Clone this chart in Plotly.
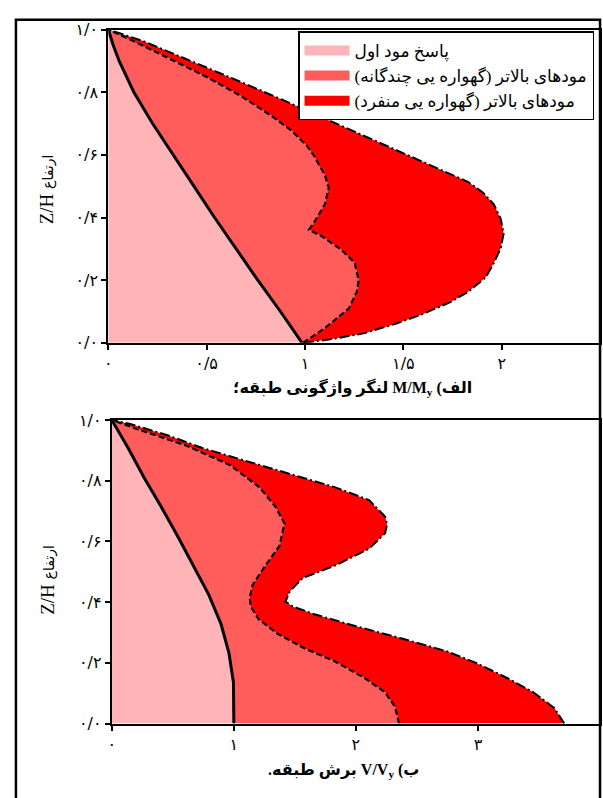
import plotly.graph_objects as go

# ---------------- data ----------------
# Top panel: overturning moment M/My vs height Z/H
m_first_y = [0.0, 0.1, 0.2, 0.3, 0.4, 0.5, 0.6, 0.7, 0.8, 0.9, 0.95, 1.0]
m_first_x = [0.985, 0.875, 0.76, 0.65, 0.54, 0.435, 0.33, 0.225, 0.13, 0.055, 0.025, 0.0]

m_multi_y = [0.0, 0.047, 0.109, 0.162, 0.199, 0.255, 0.296, 0.340, 0.361, 0.389, 0.442, 0.495,
             0.536, 0.567, 0.598, 0.629, 0.676, 0.723, 0.785, 0.847, 0.910, 0.956, 1.0]
m_multi_x = [0.99, 1.101, 1.222, 1.263, 1.273, 1.253, 1.187, 1.086, 1.020, 1.051, 1.101, 1.121,
             1.101, 1.071, 1.045, 1.010, 0.934, 0.833, 0.682, 0.505, 0.303, 0.152, 0.0]

m_single_y = [0.0, 0.012, 0.031, 0.062, 0.090, 0.131, 0.162, 0.209, 0.255, 0.302, 0.349, 0.396,
              0.442, 0.480, 0.514, 0.576, 0.636, 0.707, 0.776, 0.844, 0.910, 0.963, 1.0]
m_single_x = [0.995, 1.136, 1.303, 1.465, 1.591, 1.742, 1.828, 1.919, 1.960, 1.995, 2.010, 1.995,
              1.960, 1.904, 1.828, 1.606, 1.389, 1.136, 0.884, 0.631, 0.379, 0.177, 0.0]

# Bottom panel: storey shear V/Vy vs height Z/H
v_first_y = [0.0, 0.071, 0.135, 0.232, 0.328, 0.424, 0.521, 0.617, 0.714, 0.810, 0.907, 1.0]
v_first_x = [1.0, 1.0, 0.997, 0.96, 0.895, 0.795, 0.67, 0.54, 0.405, 0.265, 0.135, 0.0]

v_multi_y = [0.0, 0.055, 0.103, 0.151, 0.206, 0.248, 0.296, 0.344, 0.386, 0.415, 0.457, 0.521,
             0.585, 0.659, 0.714, 0.778, 0.852, 0.916, 0.971, 1.0]
v_multi_x = [2.353, 2.321, 2.239, 2.068, 1.823, 1.578, 1.358, 1.203, 1.138, 1.130, 1.154, 1.260,
             1.374, 1.415, 1.342, 1.211, 0.967, 0.608, 0.200, 0.0]

v_single_y = [0.0, 0.051, 0.103, 0.151, 0.199, 0.238, 0.280, 0.322, 0.360, 0.386, 0.402, 0.434,
              0.479, 0.521, 0.576, 0.627, 0.656, 0.682, 0.736, 0.778, 0.842, 0.907, 0.949, 0.987, 1.0]
v_single_x = [3.707, 3.626, 3.454, 3.234, 2.989, 2.745, 2.377, 1.986, 1.660, 1.481, 1.423, 1.456,
              1.562, 1.831, 2.108, 2.239, 2.255, 2.239, 2.108, 1.831, 1.293, 0.747, 0.461, 0.151, 0.0]

# tick labels
y_tickvals = [0, 0.2, 0.4, 0.6, 0.8, 1.0]
y_ticktext = ["۰/۰", "۰/۲", "۰/۴", "۰/۶", "۰/۸", "۱/۰"]
x1_tickvals = [0, 0.5, 1, 1.5, 2, 2.5]
x1_ticktext = ["۰", "۰/۵", "۱", "۱/۵", "۲", "۲/۵"]
x2_tickvals = [0, 1, 2, 3, 4]
x2_ticktext = ["۰", "۱", "۲", "۳", "۴"]

# (texts are rendered right-to-left; segment order chosen so the visual order matches the figure)
legend_names = ["پاسخ مود اول",
                "(گهواره یی چندگانه) مودهای بالاتر",
                "(گهواره یی منفرد) مودهای بالاتر"]
title_top = "<b>لنگر واژگونی طبقه؛ M/M<sub>y</sub> (الف</b>"
title_bottom = "<b>.برش طبقه V/V<sub>y</sub> (ب</b>"
title_y = "Z/H <span style='font-size:14px'>ارتفاع</span>"

# ---------------- styles ----------------
C_PINK = "#FFB4B8"
C_MED = "#FF5C5C"
C_RED = "#FF0000"
FONT = "Liberation Serif, DejaVu Serif, DejaVu Sans, serif"

fig = go.Figure()


def add_panel(xa, ya, fx, fy, mx, my, sx, sy):
    # fills
    fig.add_trace(go.Scatter(x=fx + [0], y=fy + [0], fill="toself", fillcolor=C_PINK,
                             mode="lines", line=dict(width=0), showlegend=False,
                             hoverinfo="skip", xaxis=xa, yaxis=ya))
    fig.add_trace(go.Scatter(x=mx + fx[::-1], y=my + fy[::-1], fill="toself", fillcolor=C_MED,
                             mode="lines", line=dict(width=0), showlegend=False,
                             hoverinfo="skip", xaxis=xa, yaxis=ya))
    fig.add_trace(go.Scatter(x=sx + mx[::-1], y=sy + my[::-1], fill="toself", fillcolor=C_RED,
                             mode="lines", line=dict(width=0), showlegend=False,
                             hoverinfo="skip", xaxis=xa, yaxis=ya))
    # outlines
    fig.add_trace(go.Scatter(x=fx, y=fy, mode="lines", line=dict(color="black", width=3),
                             showlegend=False, xaxis=xa, yaxis=ya))
    fig.add_trace(go.Scatter(x=mx, y=my, mode="lines",
                             line=dict(color="black", width=2.2, dash="6px,3px"),
                             showlegend=False, xaxis=xa, yaxis=ya))
    fig.add_trace(go.Scatter(x=sx, y=sy, mode="lines",
                             line=dict(color="black", width=2, dash="10px,3px,2px,3px"),
                             showlegend=False, xaxis=xa, yaxis=ya))


add_panel("x", "y", m_first_x, m_first_y, m_multi_x, m_multi_y, m_single_x, m_single_y)
add_panel("x2", "y2", v_first_x, v_first_y, v_multi_x, v_multi_y, v_single_x, v_single_y)

for name, col in zip(legend_names, [C_PINK, C_MED, C_RED]):
    fig.add_trace(go.Scatter(x=[None], y=[None], mode="lines", name=name,
                             line=dict(color=col, width=10), xaxis="x", yaxis="y"))

W, H = 603, 798

axis_common = dict(showgrid=False, zeroline=False, showline=True, linecolor="black",
                   linewidth=2, mirror=True, ticks="outside", ticklen=5, tickwidth=1.5,
                   tickcolor="black", tickfont=dict(family="DejaVu Sans", size=16, color="black"))

fig.update_layout(
    width=W, height=H,
    margin=dict(l=0, r=0, t=0, b=0),
    paper_bgcolor="white", plot_bgcolor="white",
    font=dict(family=FONT, color="black"),
    xaxis=dict(domain=[105 / W, 600 / W], range=[0, 2.5], tickmode="array",
               tickvals=x1_tickvals, ticktext=x1_ticktext, anchor="y", **axis_common),
    yaxis=dict(domain=[(H - 342) / H, (H - 21) / H], range=[0, 1], tickmode="array",
               tickvals=y_tickvals, ticktext=y_ticktext, anchor="x", **axis_common),
    xaxis2=dict(domain=[108.5 / W, 600 / W], range=[0, 4], tickmode="array",
                tickvals=x2_tickvals, ticktext=x2_ticktext, anchor="y2", **axis_common),
    yaxis2=dict(domain=[(H - 732) / H, (H - 421) / H], range=[0, 1], tickmode="array",
                tickvals=y_tickvals, ticktext=y_ticktext, anchor="x2", **axis_common),
    legend=dict(x=296 / W, y=(H - 23) / H, xanchor="left", yanchor="top",
                bgcolor="white", bordercolor="black", borderwidth=1.5,
                font=dict(family=FONT, size=17, color="black"),
                itemwidth=45, tracegroupgap=0),
    showlegend=True,
)

# outer frame
fig.add_shape(type="rect", xref="paper", yref="paper",
              x0=12 / W, x1=600 / W, y0=-0.05, y1=(H - 11) / H,
              line=dict(color="black", width=2.5), fillcolor="rgba(0,0,0,0)", layer="above")

# axis titles
for yc in (185, 585):
    fig.add_annotation(text=title_y, xref="paper", yref="paper", x=43 / W, y=(H - yc) / H,
                       xanchor="center", yanchor="middle",
                       textangle=-90, showarrow=False, font=dict(family=FONT, size=19))
fig.add_annotation(text=title_top, xref="paper", yref="paper", x=351 / W, y=(H - 388) / H,
                   xanchor="center", yanchor="middle",
                   showarrow=False, font=dict(family=FONT, size=16))
fig.add_annotation(text=title_bottom, xref="paper", yref="paper", x=342 / W, y=(H - 780) / H,
                   xanchor="center", yanchor="middle",
                   showarrow=False, font=dict(family=FONT, size=16))

fig.write_html("out.html")
